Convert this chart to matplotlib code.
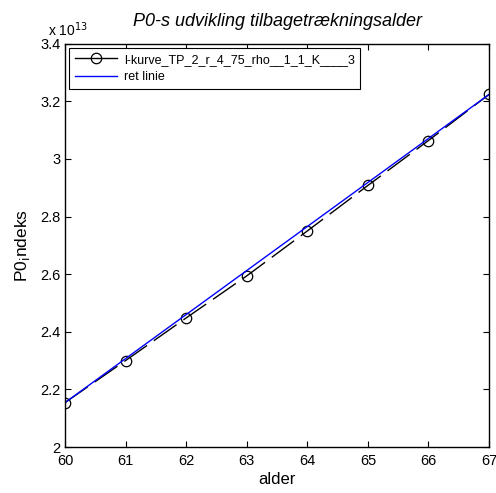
import numpy as np
import matplotlib.pyplot as plt
from matplotlib.ticker import FuncFormatter

plt.rcParams['font.family'] = ['Liberation Sans', 'DejaVu Sans']

# data (y values in units of 1e13)
alder = [60, 61, 62, 63, 64, 65, 66, 67]
p0_indeks = [2.154, 2.300, 2.448, 2.594, 2.750, 2.908, 3.064, 3.224]
ret_x = [alder[0], alder[-1]]
ret_y = [p0_indeks[0], p0_indeks[-1]]

x_ticks = [60, 61, 62, 63, 64, 65, 66, 67]
y_ticks = [2.0, 2.2, 2.4, 2.6, 2.8, 3.0, 3.2, 3.4]

fig = plt.figure(figsize=(4.96, 4.93), dpi=100)
ax = fig.add_axes([0.131, 0.0933, 0.855, 0.818])

scale = 1e13
ax.plot(alder, [v * scale for v in p0_indeks], color='black', linestyle=(0, (20, 6)),
        linewidth=1, marker='o', markersize=7.5, markerfacecolor='none',
        markeredgewidth=0.9, label='l-kurve_TP_2_r_4_75_rho__1_1_K____3')
ax.plot(ret_x, [v * scale for v in ret_y], color='blue', linewidth=1, label='ret linie')

ax.set_xlim(60, 67)
ax.set_ylim(2.0 * scale, 3.4 * scale)
ax.set_xticks(x_ticks)
ax.set_yticks([v * scale for v in y_ticks])
ax.yaxis.set_major_formatter(FuncFormatter(lambda v, p: '%g' % round(v / scale, 2)))

ax.tick_params(direction='in', top=True, right=True, length=4, width=0.8,
               labelsize=10.5)
ax.tick_params(axis='x', pad=5)
ax.tick_params(axis='y', pad=3)
for s in ax.spines.values():
    s.set_linewidth(1.0)

ax.text(-0.04, 1.012, 'x 10$^{13}$', transform=ax.transAxes, fontsize=10,
        ha='left', va='bottom')

ax.set_title('P0-s udvikling tilbagetrækningsalder', fontsize=13, style='italic', pad=13)
ax.set_xlabel('alder', fontsize=12, labelpad=3)
ax.set_ylabel('P0$_\\mathrm{i}$ndeks', fontsize=12.5, labelpad=6)

leg = ax.legend(loc='upper left', fontsize=9, handlelength=3.4, fancybox=False,
                framealpha=1, edgecolor='black', borderaxespad=0.35,
                borderpad=0.45, labelspacing=0.45, handletextpad=0.5)
leg.get_frame().set_linewidth(0.8)
for h in leg.get_lines():
    h.set_linestyle('-')

fig.savefig('out.png', dpi=100)
